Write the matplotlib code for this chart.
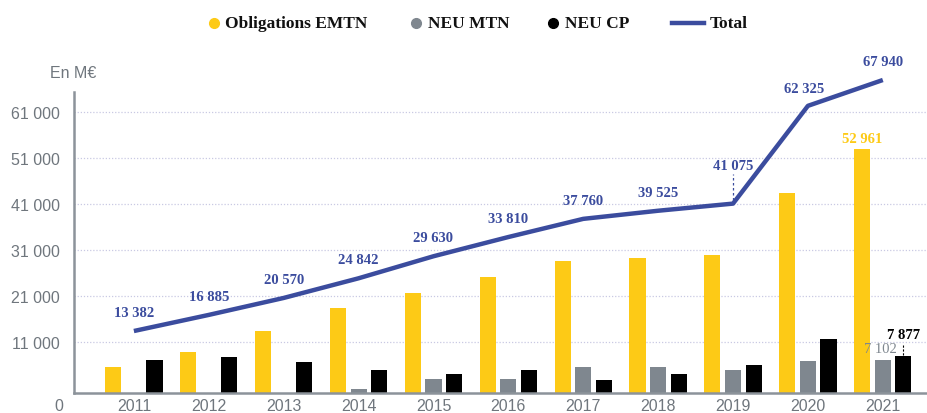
import numpy as np
import matplotlib as mpl
mpl.use('Agg')
import matplotlib.pyplot as plt
from matplotlib.lines import Line2D
from matplotlib.transforms import blended_transform_factory

years = [2011, 2012, 2013, 2014, 2015, 2016, 2017, 2018, 2019, 2020, 2021]
emtn = [5600, 8800, 13400, 18400, 21600, 25100, 28600, 29300, 30000, 43400, 52961]
neu_mtn = [0, 0, 0, 700, 3000, 3000, 5600, 5600, 4900, 6900, 7102]
neu_cp = [7100, 7700, 6600, 4900, 4000, 4900, 2700, 4000, 6000, 11600, 7877]
total = [13382, 16885, 20570, 24842, 29630, 33810, 37760, 39525, 41075, 62325, 67940]
total_labels = ['13 382', '16 885', '20 570', '24 842', '29 630', '33 810',
                '37 760', '39 525', '41 075', '62 325', '67 940']
yticks = [11000, 21000, 31000, 41000, 51000, 61000]
ytick_labels = ['11 000', '21 000', '31 000', '41 000', '51 000', '61 000']
series_names = ['Obligations EMTN', 'NEU MTN', 'NEU CP', 'Total']

yellow = '#fdca16'
grey = '#7f878f'
black = '#000000'
blue = '#3b4c9e'
axis_grey = '#8c939a'
text_grey = '#6f767d'

plt.rcParams['font.family'] = ['Liberation Sans', 'DejaVu Sans']
serif = ['Liberation Serif', 'DejaVu Serif']

W, H = 927, 414
fig = plt.figure(figsize=(W / 100, H / 100), dpi=100)
ax = fig.add_axes([0.0798, 0.0493, 0.9202, 0.7257])

x = np.arange(len(years))
w = 0.215
off = 0.275
ax.bar(x - off, emtn, w, color=yellow, zorder=2)
ax.bar(x, neu_mtn, w, color=grey, zorder=2)
ax.bar(x + off, neu_cp, w, color=black, zorder=2)
ax.plot(x, total, color=blue, lw=3.2, zorder=4, clip_on=False,
        solid_capstyle='butt')

ax.set_xlim(-0.8, 10.59)
ax.set_ylim(0, 65300)

for s in ['top', 'right']:
    ax.spines[s].set_visible(False)
for s in ['left', 'bottom']:
    ax.spines[s].set_color(axis_grey)
    ax.spines[s].set_linewidth(1.8)
ax.spines['bottom'].set_zorder(3)

ax.set_yticks(yticks)
ax.set_yticklabels(ytick_labels)
ax.set_xticks(x)
ax.set_xticklabels([str(y) for y in years])
ax.tick_params(axis='both', length=0, labelsize=11.5, labelcolor=text_grey)
ax.tick_params(axis='y', pad=10)
ax.tick_params(axis='x', pad=4)
ax.grid(axis='y', color='#c9c9e3', linestyle=(0, (1, 1.5)), lw=0.9, zorder=0)

# the zero label sits below the baseline
trans = blended_transform_factory(ax.transAxes, ax.transData)
ax.text(-0.0125, -2900, '0', transform=trans, ha='right', va='center',
        fontsize=11.5, color=text_grey)
fig.text(0.054, 0.822, 'En M€', ha='left', va='center', fontsize=11.5,
         color=text_grey)

# total labels
for i, (v, lab) in enumerate(zip(total, total_labels)):
    kw = dict(ha='center', va='bottom', fontsize=10.5, fontweight='bold',
              color=blue, family=serif, clip_on=False)
    if i == 8:
        ax.text(x[i], v + 6900, lab, **kw)
        ax.plot([x[i], x[i]], [v + 700, v + 6500], color=blue, lw=0.9,
                linestyle=(0, (2, 2)), zorder=3)
    elif i == 9:
        ax.text(x[i] - 0.05, v + 2300, lab, **kw)
    else:
        ax.text(x[i], v + 2600, lab, **kw)

# 2021 bar labels
ax.text(x[-1] - off, emtn[-1] + 800, '52 961', ha='center', va='bottom',
        fontsize=10.5, fontweight='bold', color=yellow, family=serif)
ax.text(x[-1] + 0.19, neu_mtn[-1] + 1000, '7 102', ha='right', va='bottom',
        fontsize=10.5, color=grey, family=serif)
ax.text(x[-1] + off, neu_cp[-1] + 3300, '7 877', ha='center', va='bottom',
        fontsize=10.5, fontweight='bold', color=black, family=serif)
ax.plot([x[-1] + off, x[-1] + off], [neu_cp[-1] + 200, neu_cp[-1] + 2500],
        color=black, lw=0.8, linestyle=(0, (2, 1.5)), zorder=3)

# legend row drawn by hand to keep the original spacing
ly = 1 - 24 / H
colors = [yellow, grey, black]
dot_x = [214, 416, 553]
text_x = [225, 428, 565, 710]
for c, px in zip(colors, dot_x):
    fig.add_artist(Line2D([px / W], [ly], marker='o', ms=7, ls='none',
                          color=c, transform=fig.transFigure))
fig.add_artist(Line2D([672 / W, 704 / W], [ly, ly], color=blue, lw=3.2,
                      transform=fig.transFigure))
for name, px in zip(series_names, text_x):
    fig.text(px / W, ly, name, ha='left', va='center', fontsize=12.5,
             fontweight='bold', family=serif, color='#111111')

fig.savefig('out.png', dpi=100)
